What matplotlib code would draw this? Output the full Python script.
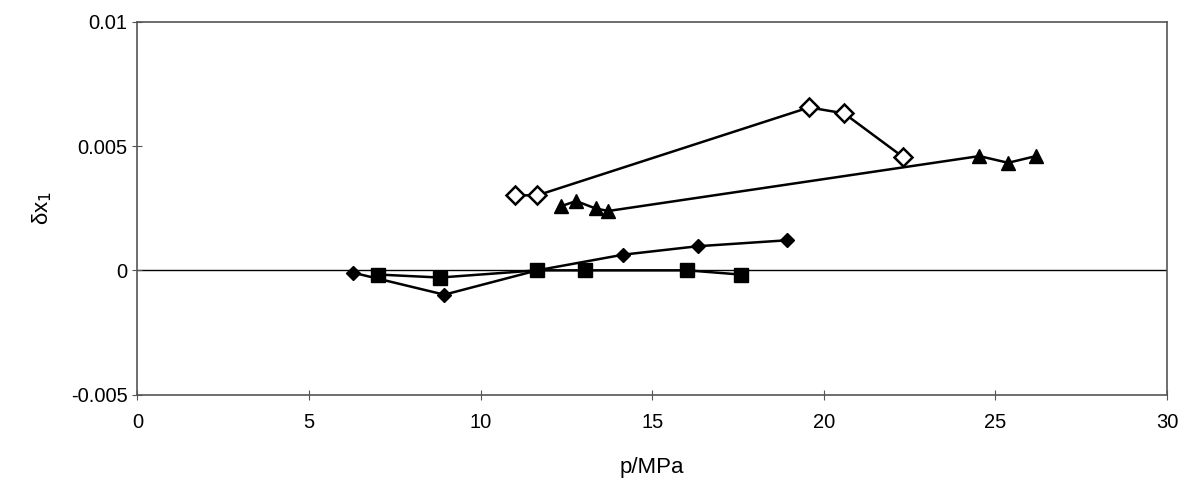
import numpy as np
import matplotlib.pyplot as plt

plt.rcParams['font.family'] = ['Liberation Sans', 'DejaVu Sans']

# open diamonds
p_open = [11.0, 11.65, 19.57, 20.59, 22.30]
dx_open = [0.00302, 0.00302, 0.00656, 0.00632, 0.00457]

# filled triangles
p_tri = [12.34, 12.78, 13.35, 13.72, 24.53, 25.37, 26.18]
dx_tri = [0.00258, 0.00279, 0.00249, 0.00239, 0.00460, 0.00433, 0.00460]

# filled diamonds
p_dia = [6.27, 8.94, 11.65, 14.15, 16.32, 18.92]
dx_dia = [-0.00009, -0.00098, 0.0, 0.00063, 0.00097, 0.00121]

# filled squares
p_sq = [7.02, 8.81, 11.65, 13.04, 16.02, 17.58]
dx_sq = [-0.00017, -0.00029, 0.0, 0.0, 0.0, -0.00017]

xticks = [0, 5, 10, 15, 20, 25, 30]
yticks = [-0.005, 0, 0.005, 0.01]
ylabels = ['-0.005', '0', '0.005', '0.01']

fig = plt.figure(figsize=(11.81, 4.83), dpi=100)
ax = fig.add_axes([0.1164, 0.1832, 0.8718, 0.7713])

ax.axhline(0, color='black', lw=1.0, zorder=1)

ax.plot(p_sq, dx_sq, color='black', lw=1.8, marker='s', ms=10, zorder=3)
ax.plot(p_dia, dx_dia, color='black', lw=1.8, marker='D', ms=7, zorder=3)
ax.plot(p_tri, dx_tri, color='black', lw=1.8, marker='^', ms=10, zorder=3)
ax.plot(p_open, dx_open, color='black', lw=1.8, marker='D', ms=9,
        markerfacecolor='white', markeredgewidth=1.8, zorder=4)

ax.set_xlim(0, 30)
ax.set_ylim(-0.005, 0.01)
ax.set_xticks(xticks)
ax.set_yticks(yticks)
ax.set_yticklabels(ylabels)
ax.tick_params(direction='inout', length=7, width=0.8, labelsize=14.5, color='#555555')
ax.tick_params(axis='x', pad=10)
for s in ax.spines.values():
    s.set_color('#555555')
    s.set_linewidth(1.2)

ax.set_xlabel('p/MPa', fontsize=16, labelpad=18)
ax.set_ylabel('δx$_1$', fontsize=16, labelpad=12)

fig.savefig('out.png', dpi=100)
